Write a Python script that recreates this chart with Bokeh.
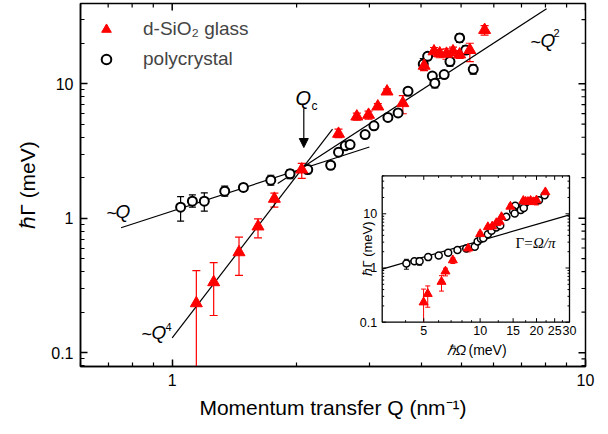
import math
from bokeh.plotting import figure
from bokeh.models import (Range1d, LogScale, FixedTicker, Label, Arrow,
                          NormalHead, Legend, LegendItem, CustomJSTickFormatter)
from bokeh.embed import file_html
from bokeh.resources import INLINE

FONT = "Liberation Sans"
SERIF = "Liberation Serif"
RED = "#ff0000"

# ---------------- data ----------------
# polycrystal: momentum transfer Q (nm^-1), linewidth (meV), error limits, energy (meV, inset)
poly_q = [1.048, 1.119, 1.196, 1.340, 1.487, 1.732, 1.928, 2.128, 2.418, 2.526, 2.622, 2.694, 2.929,
          3.077, 3.326, 3.52, 3.72, 4.05, 4.15, 4.26, 4.32, 4.55, 4.70, 4.96, 5.13, 5.35]
poly_g = [1.207, 1.338, 1.338, 1.587, 1.692, 1.917, 2.137, 2.300, 2.476, 3.095, 3.45, 3.53, 4.19,
          4.86, 5.61, 6.07, 8.79, 14.0, 16.0, 11.4, 10.1, 11.7, 14.6, 21.9, 17.8, 12.8]
poly_lo = [0.950, 1.207, 1.127, 1.457, 1.587, 1.759, 1.97, 2.14, 2.33, 2.95, 3.29, 3.37, 4.00,
           4.64, 5.36, 5.80, 8.40, 12.7, 15.1, 10.9, 9.3, 11.1, 13.5, 20.3, 16.5, 11.8]
poly_hi = [1.446, 1.492, 1.545, 1.729, 1.80, 2.087, 2.30, 2.47, 2.61, 3.25, 3.62, 3.70, 4.39,
           5.09, 5.87, 6.35, 9.20, 15.4, 16.9, 11.9, 10.9, 12.3, 15.7, 23.5, 19.1, 13.8]
poly_omega = [4.04, 4.46, 4.75, 5.28, 6.01, 6.75, 7.57, 8.43, 9.36, 9.7, 10.1, 10.4, 11.0,
              11.5, 12.2, 12.8, 13.8, 15.4, 17.5, 15.0, 15.3, 16.5, 17.0, 22.1, 20.6, 17.1]

# d-SiO2 glass
glass_q = [1.144, 1.260, 1.451, 1.613, 1.767, 2.058, 2.526, 2.797, 2.986, 3.144, 3.31, 3.614,
           4.07, 4.30, 4.44, 4.61, 4.78, 4.96, 5.25, 5.70]
glass_g = [0.233, 0.334, 0.558, 0.868, 1.394, 2.30, 4.24, 5.70, 5.87, 6.77, 8.75, 7.17,
           13.6, 17.4, 16.8, 16.7, 17.4, 16.5, 17.8, 25.1]
glass_lo = [0.01, 0.189, 0.375, 0.715, 1.21, 1.98, 3.97, 5.35, 5.45, 6.45, 8.35, 5.98,
            12.5, 16.0, 15.6, 15.2, 16.2, 15.4, 14.6, 23.0]
glass_hi = [0.408, 0.467, 0.722, 0.99, 1.534, 2.56, 4.60, 6.05, 6.25, 7.10, 9.15, 8.17,
            15.0, 18.6, 18.0, 18.2, 18.7, 17.6, 20.0, 27.0]
glass_omega = [4.99, 5.25, 6.22, 6.53, 7.15, 8.63, 10.0, 11.0, 11.6, 12.2, 13.0, 12.7,
               14.5, 17.0, 17.5, 18.0, 18.6, 19.2, 20.0, 22.3]

# power-law guide lines: (Q start, Q end), prefactor, exponent
fit_q1_x, fit_q1_a, fit_q1_n = [0.752, 3.0], 1.129, 1
fit_q2_x, fit_q2_a, fit_q2_n = [1.80, 8.05], 0.558, 2
fit_q4_x, fit_q4_a, fit_q4_n = [1.0, 2.443], 0.129, 4
inset_line_x = [3.0, 30.0]          # Gamma = Omega / pi

# ticks
main_x_ticks = [1, 10]
main_x_minor = [0.6, 0.7, 0.8, 0.9, 2, 3, 4, 5, 6, 7, 8, 9]
main_y_ticks = [0.1, 1, 10]
main_y_minor = [0.08, 0.09, 0.2, 0.3, 0.4, 0.5, 0.6, 0.7, 0.8, 0.9, 2, 3, 4, 5, 6, 7, 8, 9, 20, 30]
inset_x_ticks = [5, 10, 15, 20, 25, 30]
inset_x_labels = ["5", "10", "15", "20", "25", "30"]
inset_x_minor = [4, 6, 7, 8, 9, 12.5, 17.5, 22.5, 27.5]
inset_y_ticks = [0.1, 1, 10]
inset_y_labels = ["0.1", "1", "10"]
inset_y_minor = [0.2, 0.3, 0.4, 0.5, 0.6, 0.7, 0.8, 0.9, 2, 3, 4, 5, 6, 7, 8, 9, 20, 30, 40, 50]

# ---------------- geometry (pixels) ----------------
W, H = 600, 430
FL, FR, FT, FB = 80, 585, 3, 366          # main frame
X0, X1 = 0.6, 10.0
Y0, Y1 = 0.0789, 39.5
IL, IR, IT, IB = 381.7, 569.0, 175.4, 321.7   # inset box
IX0, IX1 = 3.0, 30.0
IY0, IY1 = 0.1, 50.0


def make_map(d0, d1, p0, p1):
    l0, l1 = math.log10(d0), math.log10(d1)
    def to_data(px):
        return 10 ** (l0 + (px - p0) * (l1 - l0) / (p1 - p0))
    def to_px(d):
        return p0 + (math.log10(d) - l0) * (p1 - p0) / (l1 - l0)
    return to_data, to_px


mx_d, mx_p = make_map(X0, X1, FL, FR)
my_d, my_p = make_map(Y0, Y1, FB, FT)
ix_d, ix_p = make_map(IX0, IX1, IL, IR)
iy_d, iy_p = make_map(IY0, IY1, IB, IT)

p = figure(width=W, height=H, x_axis_type="log", y_axis_type="log",
           x_range=Range1d(X0, X1), y_range=Range1d(Y0, Y1),
           output_backend="svg", toolbar_location=None,
           min_border_left=FL, min_border_top=FT,
           min_border_right=W - FR, min_border_bottom=H - FB)
p.xgrid.visible = False
p.ygrid.visible = False
p.outline_line_color = "black"
p.outline_line_width = 1.5
p.background_fill_color = "white"
p.border_fill_color = "white"

fmt = CustomJSTickFormatter(code="return tick < 1 ? tick.toFixed(1) : tick.toFixed(0);")


def style_axis(ax):
    ax.axis_line_width = 1.5
    ax.major_tick_in = 7
    ax.major_tick_out = 0
    ax.minor_tick_in = 4
    ax.minor_tick_out = 0
    ax.major_tick_line_width = 1.5
    ax.minor_tick_line_width = 1.2
    ax.formatter = fmt
    ax.major_label_text_font = FONT
    ax.major_label_text_font_size = "16px"
    ax.major_label_text_color = "black"
    ax.axis_label_text_font = FONT
    ax.axis_label_text_font_size = "21px"
    ax.axis_label_text_font_style = "normal"
    ax.axis_label_text_color = "black"


bx = p.below[0]
ly = p.left[0]
bx.ticker = FixedTicker(ticks=main_x_ticks, minor_ticks=main_x_minor)
ly.ticker = FixedTicker(ticks=main_y_ticks, minor_ticks=main_y_minor)
style_axis(bx)
style_axis(ly)
bx.axis_label = "Momentum transfer Q (nm\u207b\u00b9)"
ly.axis_label = "\u210f\u0393 (meV)"
bx.major_label_standoff = 7
bx.axis_label_standoff = 7
ly.major_label_standoff = 7
ly.axis_label_standoff = 9

# mirror ticks on the top and right edges of the main frame (inward)
mx0, my0, mx1, my1, mw = [], [], [], [], []
for vals, L, lw in ((main_x_ticks, 7, 1.5), (main_x_minor, 4, 1.2)):
    for t in vals:
        mx0.append(t); mx1.append(t); my0.append(Y1); my1.append(my_d(FT + L)); mw.append(lw)
for vals, L, lw in ((main_y_ticks, 7, 1.5), (main_y_minor, 4, 1.2)):
    for t in vals:
        my0.append(t); my1.append(t); mx0.append(X1); mx1.append(mx_d(FR - L)); mw.append(lw)
p.segment(mx0, my0, mx1, my1, line_color="black", line_width=mw)

# ---------------- main plot ----------------
p.segment(poly_q, poly_lo, poly_q, poly_hi, line_color="black", line_width=1.2)
p.scatter(poly_q + poly_q, poly_lo + poly_hi, marker="dash", size=7,
          line_color="black", line_width=1.2)
p.segment(glass_q, glass_lo, glass_q, glass_hi, line_color=RED, line_width=1.2)
p.scatter(glass_q + glass_q, glass_lo + glass_hi, marker="dash", size=8,
          line_color=RED, line_width=1.2)

for xs, a, n in ((fit_q1_x, fit_q1_a, fit_q1_n), (fit_q2_x, fit_q2_a, fit_q2_n),
                 (fit_q4_x, fit_q4_a, fit_q4_n)):
    p.line(xs, [a * x ** n for x in xs], line_color="black", line_width=1.2)

r_poly = p.scatter(poly_q, poly_g, marker="circle", size=9, fill_color="white",
                   line_color="black", line_width=2)
r_glass = p.scatter(glass_q, glass_g, marker="triangle", size=12, fill_color=RED,
                    line_color=RED, line_width=1)

legend = Legend(items=[LegendItem(label="d-SiO\u2082 glass", renderers=[r_glass]),
                       LegendItem(label="polycrystal", renderers=[r_poly])],
                location="top_left", margin=4, padding=10, glyph_width=24, glyph_height=24,
                label_height=24, spacing=6, label_standoff=25,
                label_text_font=FONT, label_text_font_size="19px",
                border_line_alpha=0, background_fill_alpha=0)
p.add_layout(legend)


def lab(text, px, py, size, style="normal", align="left", baseline="middle",
        font=FONT, angle=0.0):
    p.add_layout(Label(x=mx_d(px), y=my_d(py), text=text, text_font=font,
                       text_font_size=f"{size}px", text_font_style=style,
                       text_align=align, text_baseline=baseline, angle=angle,
                       text_color="black"))


# annotations
lab("~", 106, 212, 18)
lab("Q", 115, 211, 19, "italic")
lab("~", 141, 333, 18)
lab("Q", 151, 332, 19, "italic")
lab("4", 165, 326, 11)
lab("~", 530, 41, 18)
lab("Q", 540, 40, 19, "italic")
lab("2", 553, 32, 11)
lab("Q", 295, 97, 20, "italic")
lab("c", 311, 105, 12)
p.add_layout(Arrow(x_start=mx_d(303.3), y_start=my_d(108), x_end=mx_d(303.3), y_end=my_d(147),
                   line_width=1.2, line_color="black",
                   end=NormalHead(size=9, fill_color="black", line_color="black")))

# ---------------- inset ----------------
p.extra_x_ranges = {"ix": Range1d(ix_d(FL), ix_d(FR))}
p.extra_y_ranges = {"iy": Range1d(iy_d(FB), iy_d(FT))}
p.extra_x_scales = {"ix": LogScale()}
p.extra_y_scales = {"iy": LogScale()}
IN = dict(x_range_name="ix", y_range_name="iy")

p.quad(left=[IX0], right=[IX1], bottom=[IY0], top=[IY1], fill_color="white",
       line_color="black", line_width=1.3, **IN)
p.line(inset_line_x, [x / math.pi for x in inset_line_x], line_color="black",
       line_width=1.2, **IN)

glass_lo_in = [max(v, IY0) for v in glass_lo]
p.segment(poly_omega, poly_lo, poly_omega, poly_hi, line_color="black", line_width=1, **IN)
p.segment(glass_omega, glass_lo_in, glass_omega, glass_hi, line_color=RED, line_width=1, **IN)
cap_x = [o for o, v in zip(glass_omega, glass_lo) if v > IY0] + glass_omega
cap_y = [v for v in glass_lo if v > IY0] + glass_hi
p.scatter(cap_x, cap_y, marker="dash", size=5, line_color=RED, line_width=1, **IN)
p.scatter(poly_omega + poly_omega, poly_lo + poly_hi, marker="dash", size=5,
          line_color="black", line_width=1, **IN)
p.scatter(poly_omega, poly_g, marker="circle", size=7, fill_color="white",
          line_color="black", line_width=1.5, **IN)
p.scatter(glass_omega, glass_g, marker="triangle", size=9, fill_color=RED,
          line_color=RED, line_width=1, **IN)

# inset ticks (inward on all four sides)
tx0, ty0, tx1, ty1 = [], [], [], []
for vals, L in ((inset_x_ticks, 4), (inset_x_minor, 2)):
    for t in vals:
        tx0 += [t, t]
        tx1 += [t, t]
        ty0 += [IY0, IY1]
        ty1 += [iy_d(IB - L), iy_d(IT + L)]
for vals, L in ((inset_y_ticks, 4), (inset_y_minor, 2)):
    for t in vals:
        ty0 += [t, t]
        ty1 += [t, t]
        tx0 += [IX0, IX1]
        tx1 += [ix_d(IL + L), ix_d(IR - L)]
p.segment(tx0, ty0, tx1, ty1, line_color="black", line_width=1, **IN)

for t, s in zip(inset_x_ticks, inset_x_labels):
    lab(s, ix_p(t), IB + 8, 12.5, align="center")
for t, s in zip(inset_y_ticks, inset_y_labels):
    lab(s, IL - 5, iy_p(t), 12.5, align="right")
lab("\u210f\u03a9", 446, 349, 14, "italic")
lab("(meV)", 468, 349, 14)
lab("\u210f\u0393 (meV)", 367, 248, 13, align="center", angle=math.pi / 2)
lab("\u0393=", 515, 242, 15, font=SERIF)
lab("\u03a9/\u03c0", 532.5, 242, 15, "italic", font=SERIF)

open("out.html", "w").write(file_html(p, INLINE))
